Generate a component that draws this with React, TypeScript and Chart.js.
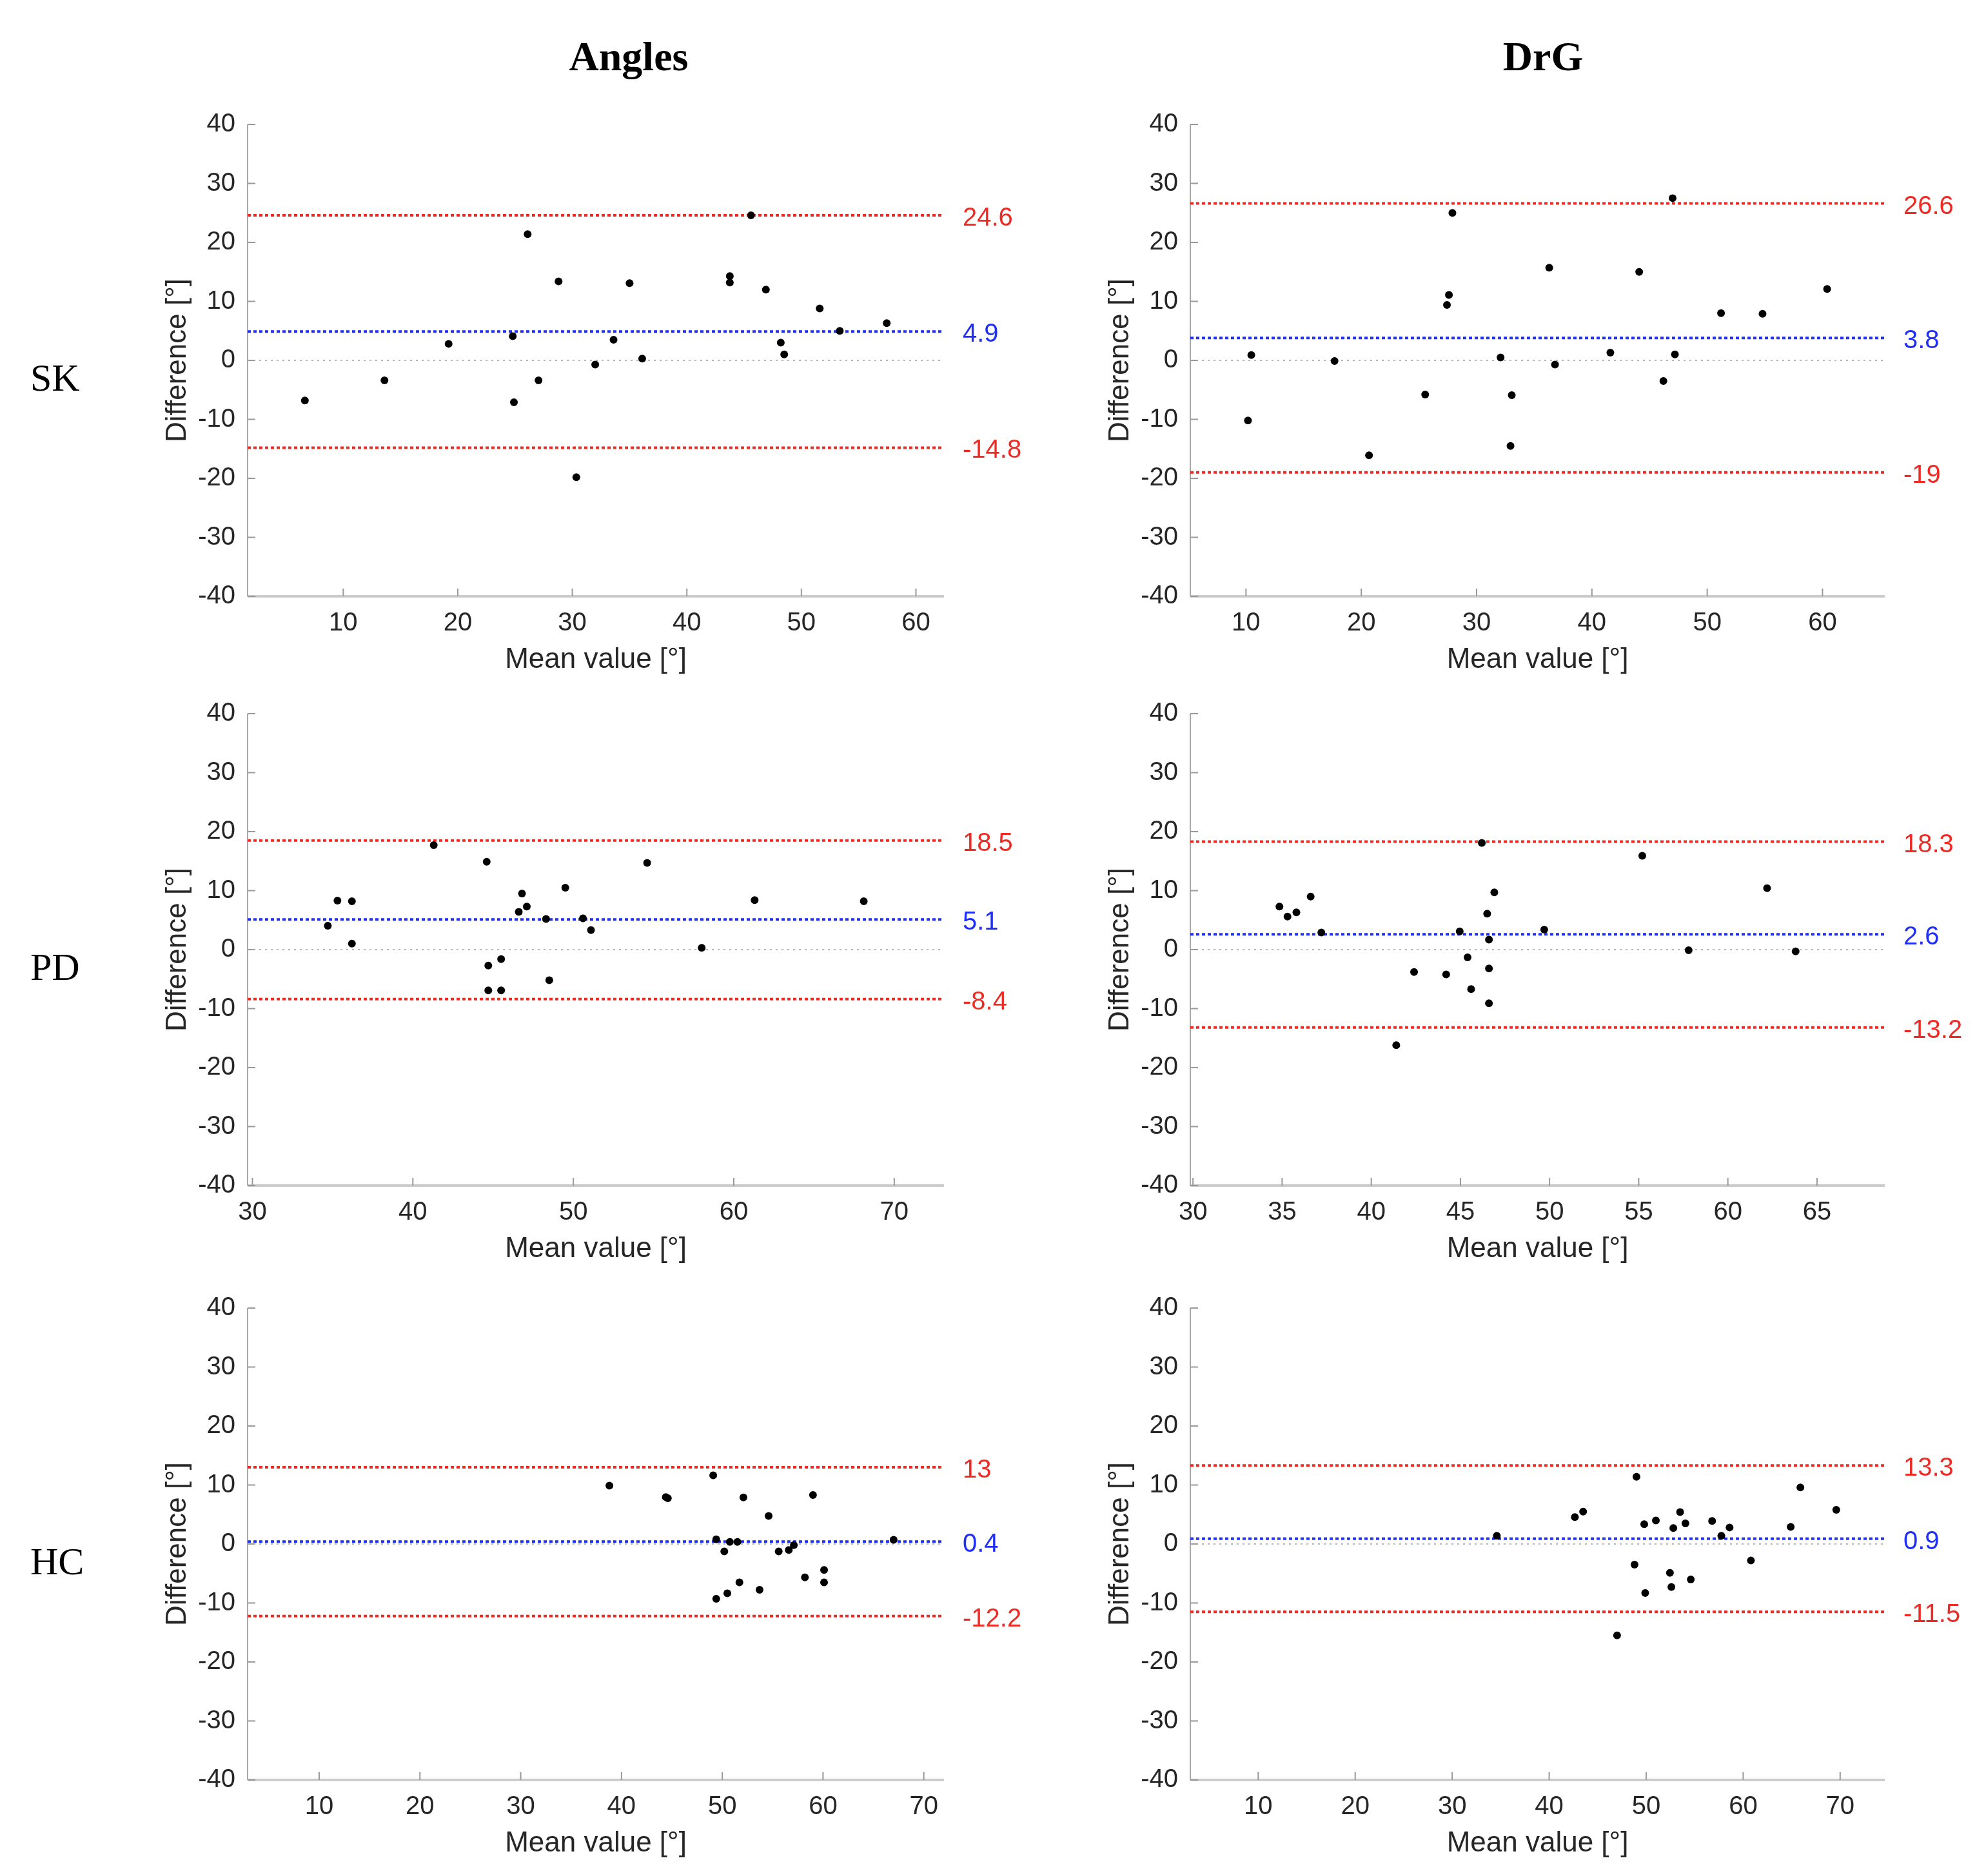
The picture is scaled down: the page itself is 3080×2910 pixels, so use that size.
import React, { useEffect, useRef } from "react";
import { Chart, registerables } from "chart.js";
Chart.register(...registerables);

// ---------- data ----------
const colTitles = ["Angles", "DrG"];
const rowLabels = ["SK", "PD", "HC"];
const yTicks = [-40, -30, -20, -10, 0, 10, 20, 30, 40];

const skAnglesMean = [6.65, 13.6, 19.2, 24.8, 24.9, 26.1, 27.05, 28.8, 30.35, 32.0, 33.6, 35.0, 36.1, 43.75, 43.75, 45.6, 46.9, 48.2, 48.5, 51.6, 53.35, 57.45];
const skAnglesDiff = [-6.8, -3.4, 2.8, 4.1, -7.1, 21.4, -3.4, 13.4, -19.8, -0.7, 3.5, 13.1, 0.3, 14.3, 13.2, 24.6, 12.0, 3.0, 1.0, 8.8, 5.0, 6.3];
const skAnglesLimits = [24.6, 4.9, -14.8];
const skAnglesXRange = [1.65, 62.45];
const skAnglesXTicks = [10, 20, 30, 40, 50, 60];

const skDrgMean = [10.17, 10.46, 17.68, 20.67, 25.54, 27.43, 27.6, 27.9, 32.08, 33.05, 32.94, 36.3, 36.8, 41.6, 44.1, 46.2, 47.0, 47.2, 51.2, 54.8, 60.4];
const skDrgDiff = [-10.2, 0.9, -0.1, -16.1, -5.8, 9.4, 11.1, 25.0, 0.5, -5.9, -14.5, 15.7, -0.7, 1.3, 15.0, -3.5, 27.5, 1.0, 8.0, 7.9, 12.1];
const skDrgLimits = [26.6, 3.8, -19];
const skDrgXRange = [5.17, 65.4];
const skDrgXTicks = [10, 20, 30, 40, 50, 60];

const pdAnglesMean = [34.7, 35.3, 36.2, 36.2, 41.3, 44.6, 44.7, 44.7, 45.5, 45.5, 46.6, 46.8, 47.1, 48.3, 48.5, 49.5, 50.6, 51.1, 54.6, 58.0, 61.3, 68.1];
const pdAnglesDiff = [4.05, 8.3, 8.2, 1.0, 17.7, 14.9, -2.7, -6.9, -1.6, -6.9, 6.4, 9.5, 7.3, 5.2, -5.2, 10.5, 5.3, 3.3, 14.7, 0.3, 8.4, 8.2];
const pdAnglesLimits = [18.5, 5.1, -8.4];
const pdAnglesXRange = [29.7, 73.1];
const pdAnglesXTicks = [30, 40, 50, 60, 70];

const pdDrgMean = [34.85, 35.3, 35.8, 36.6, 37.2, 41.4, 42.4, 44.2, 44.96, 45.4, 45.6, 46.2, 46.5, 46.6, 46.6, 46.6, 46.9, 49.7, 55.2, 57.8, 62.2, 63.8];
const pdDrgDiff = [7.3, 5.6, 6.3, 9.0, 2.9, -16.2, -3.8, -4.2, 3.1, -1.3, -6.7, 18.1, 6.1, -9.1, -3.2, 1.7, 9.7, 3.4, 15.9, -0.1, 10.4, -0.3];
const pdDrgLimits = [18.3, 2.6, -13.2];
const pdDrgXRange = [29.85, 68.8];
const pdDrgXTicks = [30, 35, 40, 45, 50, 55, 60, 65];

const hcAnglesMean = [38.8, 44.4, 44.6, 49.1, 49.4, 49.4, 50.2, 50.5, 50.75, 51.5, 51.7, 52.1, 53.7, 54.6, 55.6, 56.6, 57.1, 58.2, 59.0, 60.1, 60.1, 67.0];
const hcAnglesDiff = [9.9, 7.95, 7.75, 11.65, 0.8, -9.3, -1.25, -8.35, 0.35, 0.35, -6.5, 7.9, -7.75, 4.75, -1.25, -1.0, -0.2, -5.65, 8.3, -4.4, -6.5, 0.7];
const hcAnglesLimits = [13, 0.4, -12.2];
const hcAnglesXRange = [2.9, 72.0];
const hcAnglesXTicks = [10, 20, 30, 40, 50, 60, 70];

const hcDrgMean = [34.6, 42.65, 43.5, 47.0, 48.8, 49.0, 49.8, 49.9, 51.0, 52.45, 52.6, 52.8, 53.5, 54.05, 54.6, 56.8, 57.75, 58.6, 60.8, 64.9, 65.9, 69.6];
const hcDrgDiff = [1.4, 4.55, 5.5, -15.5, -3.5, 11.4, 3.35, -8.3, 4.0, -4.9, -7.3, 2.7, 5.4, 3.5, -6.0, 3.9, 1.4, 2.8, -2.8, 2.9, 9.6, 5.8];
const hcDrgLimits = [13.3, 0.9, -11.5];
const hcDrgXRange = [3.0, 74.6];
const hcDrgXTicks = [10, 20, 30, 40, 50, 60, 70];

// ---------- style / layout ----------
const RED = "#ee2a24";
const BLUE = "#1f2ff5";
const SANS = "'Liberation Sans', Arial, Helvetica, sans-serif";
const SERIF = "'Liberation Serif', 'Times New Roman', serif";
const Y_AXIS_W = 140;
const X_AXIS_H = 140;
const PAD_TOP = 60;
const PAD_RIGHT = 200;
const COL_LEFT = [384, 1846];
const COL_W = [1080, 1077];
const ROW_TOP = [193, 1107, 2029];
const PLOT_H = 732;

type PanelProps = {
  mean: number[];
  diff: number[];
  lims: number[];
  xRange: number[];
  xTicks: number[];
  plotLeft: number;
  plotTop: number;
  plotW: number;
};

const axisPlugin = {
  id: "matlabAxes",
  beforeDatasetsDraw(chart: any) {
    const { ctx, chartArea, scales } = chart;
    const { left, right, top, bottom } = chartArea;
    ctx.save();
    // bottom axis
    ctx.strokeStyle = "#cccccc";
    ctx.lineWidth = 4;
    ctx.beginPath();
    ctx.moveTo(left, bottom);
    ctx.lineTo(right, bottom);
    ctx.stroke();
    // left axis
    ctx.strokeStyle = "#a8a8a8";
    ctx.lineWidth = 2;
    ctx.beginPath();
    ctx.moveTo(left, top);
    ctx.lineTo(left, bottom);
    ctx.stroke();
    // inward ticks
    ctx.strokeStyle = "#999999";
    ctx.lineWidth = 2;
    for (const t of scales.y.ticks) {
      const py = scales.y.getPixelForValue(t.value);
      ctx.beginPath();
      ctx.moveTo(left, py);
      ctx.lineTo(left + 12, py);
      ctx.stroke();
    }
    for (const t of scales.x.ticks) {
      const px = scales.x.getPixelForValue(t.value);
      ctx.beginPath();
      ctx.moveTo(px, bottom);
      ctx.lineTo(px, bottom - 12);
      ctx.stroke();
    }
    ctx.restore();
  },
};

function makeLabelPlugin(lims: number[]) {
  return {
    id: "limLabels",
    afterDatasetsDraw(chart: any) {
      const { ctx, chartArea, scales } = chart;
      ctx.save();
      ctx.font = `40px ${SANS}`;
      ctx.textAlign = "left";
      ctx.textBaseline = "middle";
      lims.forEach((v, i) => {
        ctx.fillStyle = i === 1 ? BLUE : RED;
        ctx.fillText(String(v), chartArea.right + 29, scales.y.getPixelForValue(v) + 5);
      });
      ctx.restore();
    },
  };
}

function Panel(p: PanelProps) {
  const ref = useRef<HTMLCanvasElement>(null);
  const cw = Y_AXIS_W + p.plotW + PAD_RIGHT;
  const ch = PAD_TOP + PLOT_H + X_AXIS_H;
  useEffect(() => {
    const canvas = ref.current!;
    const [xmin, xmax] = p.xRange;
    const hline = (v: number) => [
      { x: xmin, y: v },
      { x: xmax, y: v },
    ];
    const lineDs = (v: number, color: string, w: number, dash: number[]) => ({
      data: hline(v),
      showLine: true,
      borderColor: color,
      borderWidth: w,
      borderDash: dash,
      pointRadius: 0,
      pointHoverRadius: 0,
    });
    const chart = new Chart(canvas, {
      type: "scatter",
      data: {
        datasets: [
          {
            data: p.mean.map((m, i) => ({ x: m, y: p.diff[i] })),
            pointRadius: 6,
            pointHoverRadius: 6,
            pointBackgroundColor: "#000000",
            pointBorderWidth: 0,
            showLine: false,
          } as any,
          lineDs(p.lims[0], RED, 4, [5, 4]),
          lineDs(p.lims[1], BLUE, 4, [5, 4]),
          lineDs(p.lims[2], RED, 4, [5, 4]),
          lineDs(0, "#a0a0a0", 1.5, [3, 6]),
        ],
      },
      options: {
        animation: false,
        responsive: false,
        devicePixelRatio: 1,
        events: [],
        layout: { padding: { top: PAD_TOP, right: PAD_RIGHT, left: 0, bottom: 0 } },
        plugins: { legend: { display: false }, tooltip: { enabled: false } },
        scales: {
          x: {
            type: "linear",
            min: xmin,
            max: xmax,
            grid: { display: false, drawTicks: false, tickLength: 0 },
            border: { display: false },
            afterBuildTicks: (s: any) => {
              s.ticks = p.xTicks.map((v) => ({ value: v }));
            },
            afterFit: (s: any) => {
              s.height = X_AXIS_H;
            },
            ticks: {
              autoSkip: false,
              maxRotation: 0,
              minRotation: 0,
              padding: 18,
              color: "#262626",
              font: { family: SANS, size: 40 },
              callback: (v: any) => String(v),
            },
            title: {
              display: true,
              text: "Mean value [°]",
              color: "#262626",
              font: { family: SANS, size: 44 },
              padding: { top: 0, bottom: 15 },
            },
          },
          y: {
            type: "linear",
            min: -40,
            max: 40,
            grid: { display: false, drawTicks: false, tickLength: 0 },
            border: { display: false },
            afterBuildTicks: (s: any) => {
              s.ticks = yTicks.map((v) => ({ value: v }));
            },
            afterFit: (s: any) => {
              s.width = Y_AXIS_W;
            },
            ticks: {
              autoSkip: false,
              padding: 19,
              color: "#262626",
              font: { family: SANS, size: 40 },
              callback: (v: any) => String(v),
            },
            title: {
              display: true,
              text: "Difference [°]",
              color: "#262626",
              font: { family: SANS, size: 44 },
              padding: { top: 5, bottom: 0 },
            },
          },
        },
      } as any,
      plugins: [axisPlugin, makeLabelPlugin(p.lims)],
    });
    return () => chart.destroy();
  }, []);
  return (
    <canvas
      ref={ref}
      width={cw}
      height={ch}
      style={{
        position: "absolute",
        left: p.plotLeft - Y_AXIS_W,
        top: p.plotTop - PAD_TOP,
        width: cw,
        height: ch,
      }}
    />
  );
}

const panels = [
  [
    { mean: skAnglesMean, diff: skAnglesDiff, lims: skAnglesLimits, xRange: skAnglesXRange, xTicks: skAnglesXTicks },
    { mean: skDrgMean, diff: skDrgDiff, lims: skDrgLimits, xRange: skDrgXRange, xTicks: skDrgXTicks },
  ],
  [
    { mean: pdAnglesMean, diff: pdAnglesDiff, lims: pdAnglesLimits, xRange: pdAnglesXRange, xTicks: pdAnglesXTicks },
    { mean: pdDrgMean, diff: pdDrgDiff, lims: pdDrgLimits, xRange: pdDrgXRange, xTicks: pdDrgXTicks },
  ],
  [
    { mean: hcAnglesMean, diff: hcAnglesDiff, lims: hcAnglesLimits, xRange: hcAnglesXRange, xTicks: hcAnglesXTicks },
    { mean: hcDrgMean, diff: hcDrgDiff, lims: hcDrgLimits, xRange: hcDrgXRange, xTicks: hcDrgXTicks },
  ],
];

const titleX = [975, 2393];

export default function App() {
  return (
    <div
      style={{
        position: "absolute",
        left: 0,
        top: 0,
        width: 3080,
        height: 2910,
        background: "#ffffff",
        overflow: "hidden",
      }}
    >
      {colTitles.map((t, i) => (
        <div
          key={t}
          style={{
            position: "absolute",
            left: titleX[i],
            top: 88,
            transform: "translate(-50%, -50%)",
            fontFamily: SERIF,
            fontWeight: "bold",
            fontSize: 64,
            color: "#000",
            whiteSpace: "nowrap",
            lineHeight: 1,
          }}
        >
          {t}
        </div>
      ))}
      {rowLabels.map((t, r) => (
        <div
          key={t}
          style={{
            position: "absolute",
            left: 47,
            top: ROW_TOP[r] + PLOT_H / 2 + 27,
            transform: "translateY(-50%)",
            fontFamily: SERIF,
            fontSize: 60,
            color: "#000",
            whiteSpace: "nowrap",
            lineHeight: 1,
          }}
        >
          {t}
        </div>
      ))}
      {panels.map((row, r) =>
        row.map((pp, c) => (
          <Panel
            key={`${r}-${c}`}
            {...pp}
            plotLeft={COL_LEFT[c]}
            plotTop={ROW_TOP[r]}
            plotW={COL_W[c]}
          />
        ))
      )}
    </div>
  );
}
